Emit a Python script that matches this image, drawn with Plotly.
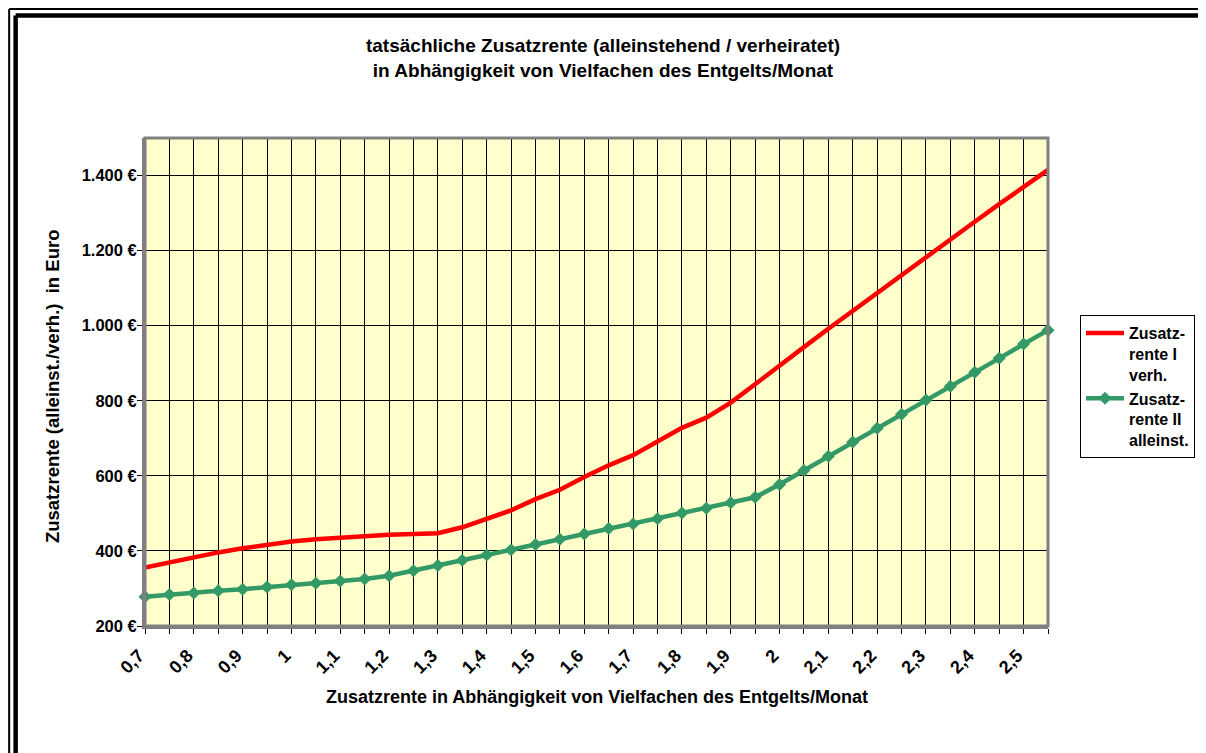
import plotly.graph_objects as go

# ---- data ----
x_vals = [0.7, 0.75, 0.8, 0.85, 0.9, 0.95, 1.0, 1.05, 1.1, 1.15, 1.2, 1.25, 1.3,
          1.35, 1.4, 1.45, 1.5, 1.55, 1.6, 1.65, 1.7, 1.75, 1.8, 1.85, 1.9, 1.95,
          2.0, 2.05, 2.1, 2.15, 2.2, 2.25, 2.3, 2.35, 2.4, 2.45, 2.5, 2.55]
tick_positions = [0.7, 0.8, 0.9, 1.0, 1.1, 1.2, 1.3, 1.4, 1.5, 1.6, 1.7, 1.8,
                  1.9, 2.0, 2.1, 2.2, 2.3, 2.4, 2.5]
tick_labels = ["0,7", "0,8", "0,9", "1", "1,1", "1,2", "1,3", "1,4", "1,5", "1,6",
               "1,7", "1,8", "1,9", "2", "2,1", "2,2", "2,3", "2,4", "2,5"]
rente_verh = [356, 370, 384, 396, 407, 417, 425, 431, 436, 439, 443, 445, 447,
              463, 486, 508, 538, 563, 597, 628, 655, 693, 728, 755, 795, 844,
              892, 943, 992, 1040, 1088, 1136, 1183, 1231, 1277, 1324, 1371, 1415]
rente_allein = [278, 284, 288, 294, 298, 304, 310, 314, 320, 325, 334, 347, 361,
                375, 389, 403, 417, 431, 445, 460, 472, 486, 501, 514, 528, 543,
                577, 614, 652, 690, 727, 764, 802, 839, 876, 913, 951, 988]
y_ticks = [200, 400, 600, 800, 1000, 1200, 1400]
y_tick_labels = ["200 €", "400 €", "600 €", "800 €", "1.000 €", "1.200 €", "1.400 €"]

# ---- layout geometry (page has an 8px body margin) ----
OFF = 8
W, H = 1206 - OFF, 753 - OFF
# plot area in page pixel coordinates
PL, PR, PT, PB = 145, 1049, 138, 626
L, R, T, B = PL - OFF, PR - OFF, PT - OFF, PB - OFF


def px(xp):
    """page x pixel -> paper"""
    return (xp - OFF - L) / (R - L)


def py(yp):
    """page y pixel -> paper"""
    return (B - (yp - OFF)) / (B - T)


label_map = {round(p, 2): lab for p, lab in zip(tick_positions, tick_labels)}
ticktext = [label_map.get(round(v, 2), "") for v in x_vals]

FONT = "Liberation Sans, Arial, sans-serif"

fig = go.Figure()
fig.add_trace(go.Scatter(
    x=x_vals, y=rente_verh, mode="lines", name="Zusatz-<br>rente I<br>verh.",
    line=dict(color="#FF0000", width=4.5), cliponaxis=False))
fig.add_trace(go.Scatter(
    x=x_vals, y=rente_allein, mode="lines+markers",
    name="Zusatz-<br>rente II<br>alleinst.",
    line=dict(color="#339966", width=4.5),
    marker=dict(symbol="diamond", size=10, color="#339966"), cliponaxis=False))

shapes = []
# plot area border
shapes.append(dict(type="rect", xref="paper", yref="paper", x0=0, x1=1, y0=0, y1=1,
                   line=dict(color="#808080", width=3), layer="above"))
# outer frame (double line, running off right and bottom edges)
for off, w in [(9, 2), (15.5, 4.5)]:
    shapes.append(dict(type="line", xref="paper", yref="paper",
                       x0=px(off), x1=px(1230), y0=py(off), y1=py(off),
                       line=dict(color="black", width=w)))
    shapes.append(dict(type="line", xref="paper", yref="paper",
                       x0=px(off), x1=px(off), y0=py(off), y1=py(780),
                       line=dict(color="black", width=w)))

fig.update_layout(
    width=W, height=H,
    margin=dict(l=L, r=W - R, t=T, b=H - B),
    paper_bgcolor="white",
    plot_bgcolor="#FFFFCC",
    font=dict(family=FONT, size=15, color="black", weight="bold"),
    title=dict(
        text="tatsächliche Zusatzrente (alleinstehend / verheiratet)<br>"
             "in Abhängigkeit von Vielfachen des Entgelts/Monat",
        x=(603 - OFF) / W, xref="container", xanchor="center",
        y=1 - (52 - OFF) / H, yref="container", yanchor="middle",
        font=dict(family=FONT, size=19, color="black", weight="bold")),
    xaxis=dict(
        range=[0.7, 2.55], tickmode="array", tickvals=x_vals, ticktext=ticktext,
        tickangle=-45, showgrid=True, gridcolor="black", gridwidth=1,
        ticks="outside", ticklen=5, tickcolor="black", tickwidth=1,
        showline=True, linecolor="#808080", linewidth=3, zeroline=False,
        ticklabelstandoff=4, ticklabelshift=-6,
        tickfont=dict(family=FONT, size=18, weight="bold")),
    yaxis=dict(
        range=[200, 1500], tickmode="array", tickvals=y_ticks,
        ticktext=y_tick_labels, showgrid=True, gridcolor="black", gridwidth=1,
        ticks="outside", ticklen=5, tickcolor="black", tickwidth=1,
        showline=True, linecolor="#808080", linewidth=3, zeroline=False,
        ticklabelstandoff=-3,
        tickfont=dict(family=FONT, size=16.5, weight="bold")),
    legend=dict(
        x=px(1080), y=py(315), xanchor="left", yanchor="top",
        bgcolor="white", bordercolor="black", borderwidth=1,
        font=dict(family=FONT, size=16, color="black", weight="bold"),
        itemwidth=38, tracegroupgap=0, valign="top"),
    annotations=[
        dict(text="Zusatzrente in Abhängigkeit von Vielfachen des Entgelts/Monat",
             xref="paper", yref="paper", x=px(597), y=py(697), xanchor="center",
             yanchor="middle", showarrow=False,
             font=dict(family=FONT, size=18, weight="bold")),
        dict(text="Zusatzrente (alleinst./verh.)  in Euro",
             xref="paper", yref="paper", x=px(52), y=py(386), xanchor="center",
             yanchor="middle", showarrow=False, textangle=-90,
             font=dict(family=FONT, size=18.5, weight="bold")),
    ],
    shapes=shapes,
    showlegend=True,
)

fig.write_html("out.html")
